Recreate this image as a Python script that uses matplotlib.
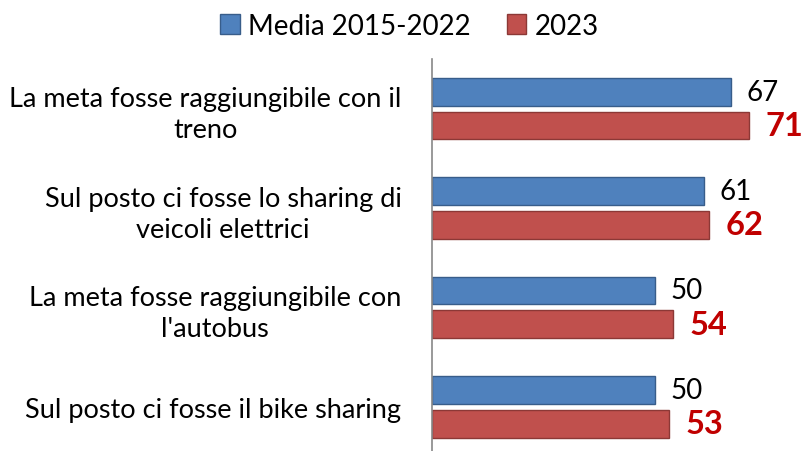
import matplotlib
matplotlib.use("Agg")
import matplotlib.pyplot as plt
import numpy as np
from matplotlib.patches import Patch

plt.rcParams['font.family'] = ['Lato', 'DejaVu Sans']

categories = ["La meta fosse raggiungibile con il\ntreno",
              "Sul posto ci fosse lo sharing di\nveicoli elettrici",
              "La meta fosse raggiungibile con\nl'autobus",
              "Sul posto ci fosse il bike sharing"]
media = [67, 61, 50, 50]
y2023 = [71, 62, 54, 53]
series_names = ["Media 2015-2022", "2023"]

fig = plt.figure(figsize=(8.03, 4.52), dpi=100)
ax = fig.add_axes([432/803, -0.012, (789-432)/803, 1 - 60/452 + 0.012])

pos = np.arange(len(categories))
h = 0.28
off = 0.17
ax.barh(pos - off, media, height=h, color='#4F81BD', edgecolor='#385D8A', linewidth=1)
ax.barh(pos + off, y2023, height=h, color='#C0504D', edgecolor='#8C3836', linewidth=1)

for p, v in zip(pos, media):
    ax.annotate(str(v), (v, p - off), xytext=(11, 0), textcoords='offset points',
                va='center', ha='left', fontsize=20, color='black')
for p, v in zip(pos, y2023):
    ax.annotate(str(v), (v, p + off), xytext=(12, 0), textcoords='offset points',
                va='center', ha='left', fontsize=23.5, color='#C00000', fontweight='bold')

ax.set_xlim(0, 80)
ax.set_ylim(len(categories) - 0.5, -0.5)
ax.set_yticks(pos)
ax.set_yticklabels(categories, fontsize=19.5, multialignment='center', linespacing=1.3)
ax.tick_params(axis='y', length=0, pad=22)
ax.set_xticks([])
for s in ['top', 'right', 'bottom']:
    ax.spines[s].set_visible(False)
ax.spines['left'].set_color('#888888')
ax.spines['left'].set_linewidth(1.2)

handles = [Patch(facecolor='#4F81BD', edgecolor='#385D8A', label=series_names[0]),
           Patch(facecolor='#C0504D', edgecolor='#8C3836', label=series_names[1])]
fig.legend(handles=handles, loc='upper center', bbox_to_anchor=(0.51, 1.025), ncol=2,
           frameon=False, fontsize=20, handlelength=0.7, handleheight=0.7,
           handletextpad=0.3, columnspacing=1.3)

fig.savefig("out.png", dpi=100)
